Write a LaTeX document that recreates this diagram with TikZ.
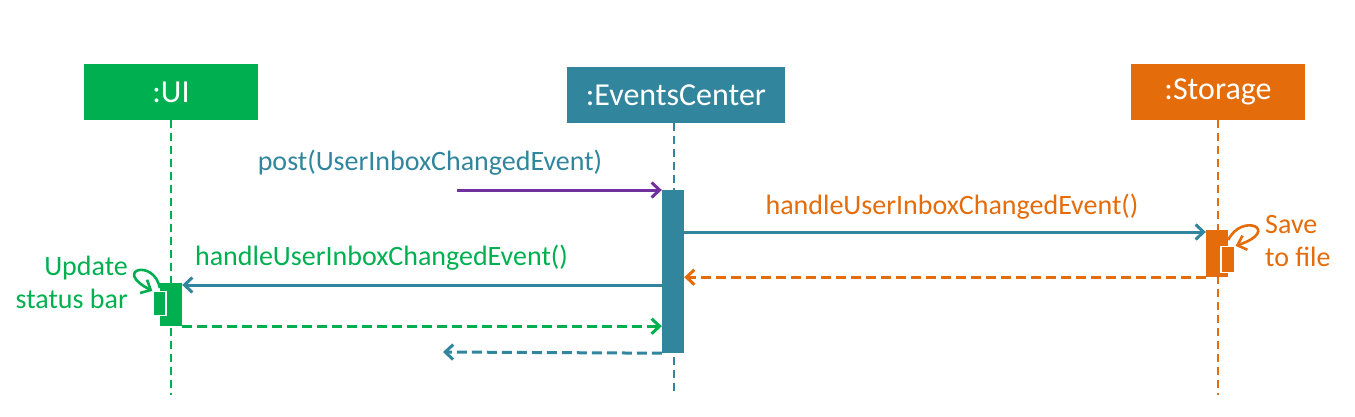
\documentclass[tikz,border=0pt]{standalone}
\usepackage{fontspec}
\setmainfont{Carlito}
\usepackage{tikz}
\usetikzlibrary{arrows.meta}
\definecolor{uiGreen}{HTML}{00B050}
\definecolor{ecTeal}{HTML}{31859C}
\definecolor{stOrange}{HTML}{E46C0A}
\definecolor{postPurple}{HTML}{7030A0}
\newcommand{\seqFont}[0]{\fontsize{28}{33}\selectfont}
\newcommand{\boxFont}[0]{\fontsize{32}{38}\selectfont}

\begin{document}
\begin{tikzpicture}[x=1pt, y=-1pt]
  \tikzset{actor/.style={rectangle, text=white, font=\boxFont, minimum height=56, inner sep=0},
    lifeline/.style={line width=2.6, dash pattern=on 8 off 5},
    act/.style={rectangle, minimum width=22, inner sep=0},
    subact/.style={rectangle, draw=white, line width=1.2, minimum width=14, inner sep=0},
    msg/.style={line width=3, -{Straight Barb[length=8, width=15]}},
    ret/.style={msg, dash pattern=on 10 off 5},
    lbl/.style={font=\seqFont, align=center, inner sep=0}}
  \useasboundingbox (0,0) rectangle (1355,417);
  \node[actor, fill=uiGreen, minimum width=174] (ui) at (171,92) {:UI};
  \node[actor, fill=ecTeal, minimum width=218] (ec) at (676,95) {:EventsCenter};
  \node[actor, fill=stOrange, minimum width=174] (st) at (1218,92) {:Storage};
  \coordinate (bottom) at (0,395);
  \draw[lifeline, uiGreen] (ui.south) -- (ui.south |- bottom);
  \draw[lifeline, ecTeal] (ec.south -| 674,0) -- (674,395);
  \draw[lifeline, stOrange] (st.south) -- (st.south |- bottom);
  \node[act, fill=ecTeal, minimum height=163] (ecAct) at (673,271.5) {};
  \node[act, fill=stOrange, minimum height=47] (stAct) at (1217,253.5) {};
  \node[subact, fill=stOrange, minimum height=26] (stSub) at (1228,259.5) {};
  \node[act, fill=uiGreen, minimum height=43] (uiAct) at (171,304.5) {};
  \node[subact, fill=uiGreen, minimum width=13, minimum height=24] (uiSub) at (159.5,303.5) {};
  \coordinate (postStart) at (457,190);
  \coordinate (toStorage) at (0,232);
  \coordinate (toUi) at (0,285);
  \coordinate (retEnd) at (443,352);
  \draw[msg, postPurple] (postStart) -- (postStart -| ecAct.west);
  \node[lbl, text=ecTeal] (postLbl) at (430,163) {post(UserInboxChangedEvent)};
  \draw[msg, ecTeal] (ecAct.east |- toStorage) -- (stAct.west |- toStorage);
  \node[lbl, text=stOrange] (stLbl) at (952,207) {handleUserInboxChangedEvent()};
  \draw[msg, stOrange, line width=2.6] (stAct.east |- 0,240) .. controls (1242,212) and (1282,230) .. (stSub.north east);
  \node[lbl, text=stOrange, align=left, anchor=west] (saveLbl) at (1265,241) {Save\\to file};
  \draw[ret, stOrange] (stAct.south west) -- (ecAct.east |- stAct.south);
  \draw[msg, ecTeal] (ecAct.west |- toUi) -- (uiAct.east |- toUi);
  \node[lbl, text=uiGreen] (uiLbl) at (381.5,258) {handleUserInboxChangedEvent()};
  \draw[msg, uiGreen, line width=2.6] (uiAct.west |- 0,288) .. controls (154,258) and (112,270) .. (uiSub.north west);
  \node[lbl, text=uiGreen, align=right, anchor=east] (updLbl) at (128,282) {Update\\status bar};
  \draw[ret, uiGreen] (uiAct.south east) -- (ecAct.west |- uiAct.south);
  \draw[ret, ecTeal] (ecAct.south west) -- (retEnd);
\end{tikzpicture}
\end{document}
